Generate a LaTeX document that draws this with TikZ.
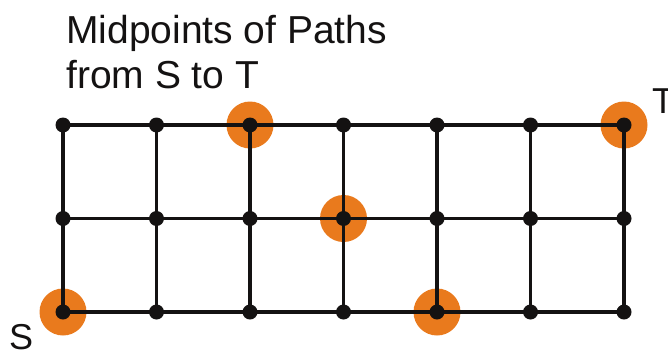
\documentclass[tikz,border=0pt]{standalone}
\usepackage{fontspec}
\setmainfont{Liberation Sans}
\definecolor{midorange}{RGB}{233,122,29}
\definecolor{inkblack}{RGB}{20,18,18}
\begin{document}
\begin{tikzpicture}[x=1pt,y=-1pt,
  dot/.style={circle,fill=inkblack,inner sep=0,minimum size=15pt},
  midpt/.style={circle,fill=midorange,inner sep=0,minimum size=47pt},
  gridline/.style={line width=3.6pt,draw=inkblack},
  bigtext/.style={font=\fontsize{39}{44.5}\selectfont,inner sep=0,align=left,text=inkblack},
  endtext/.style={font=\fontsize{36}{40}\selectfont,inner sep=0,text=inkblack}]
\useasboundingbox (0,0) rectangle (668,351);
% grid points
\foreach \i in {0,...,6}
  \foreach \j in {0,1,2}
    \coordinate (p\i\j) at ({63+93.5*\i},{125+93.5*\j});
% midpoints
\foreach \m in {02,20,31,42,60}
  \node[midpt] (m\m) at (p\m) {};
% edges
\foreach \j in {0,1,2}
  \foreach \i [count=\nx from 1] in {0,...,5}
    \draw[gridline] (p\i\j) -- (p\nx\j);
\foreach \i in {0,...,6}
  \foreach \j [count=\ny from 1] in {0,1}
    \draw[gridline] (p\i\j) -- (p\i\ny);
% vertices
\foreach \i in {0,...,6}
  \foreach \j in {0,1,2}
    \node[dot] (d\i\j) at (p\i\j) {};
% labels
\node[bigtext,anchor=base west] (title) at (66,88) {Midpoints of Paths\\from S to T};
\node[endtext,anchor=base west] (s) at (9,349) {S};
\node[endtext,anchor=base west] (t) at (652,113) {T};
\end{tikzpicture}
\end{document}
